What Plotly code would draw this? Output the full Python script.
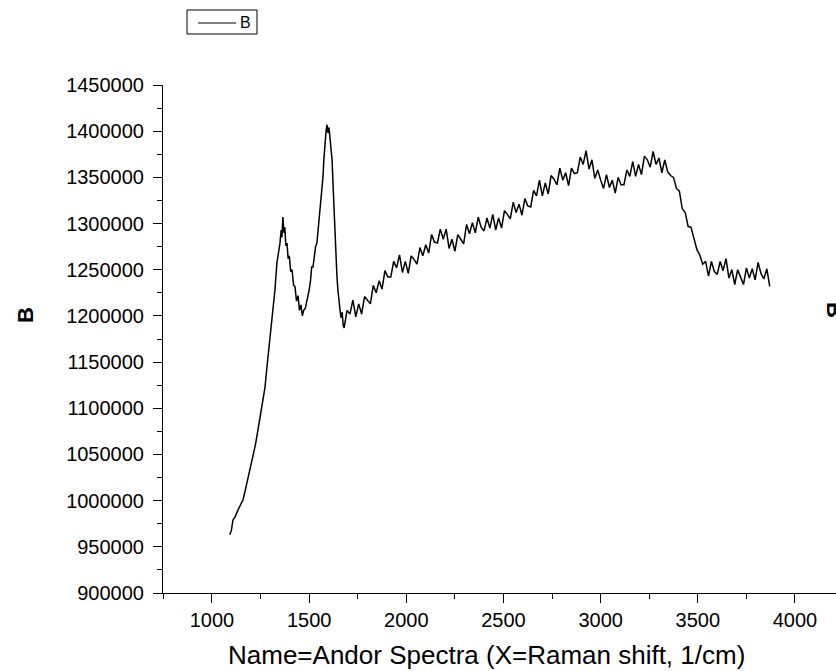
import plotly.graph_objects as go

# Raman shift (1/cm)
raman_shift = [
    1092, 1100, 1108, 1120, 1134, 1147, 1160, 1170, 1180, 1193, 1206, 1214, 1221, 1229, 1237, 1247,
    1257, 1265, 1273, 1283, 1293, 1301, 1309, 1316, 1324, 1334, 1342, 1350, 1356, 1360, 1365, 1370,
    1375, 1380, 1386, 1392, 1398, 1405, 1412, 1420, 1427, 1435, 1443, 1450, 1458, 1465, 1472, 1480,
    1487, 1494, 1500, 1507, 1513, 1520, 1527, 1533, 1540, 1548, 1556, 1563, 1571, 1576, 1581, 1587,
    1592, 1597, 1602, 1607, 1612, 1618, 1623, 1628, 1633, 1638, 1643, 1648, 1653, 1659, 1664, 1670,
    1675,
    1680, 1695, 1710, 1725, 1740, 1755, 1770, 1785, 1800, 1815, 1830, 1845, 1860, 1875, 1890, 1905,
    1920, 1935, 1950, 1965, 1980, 1995, 2010, 2025, 2040, 2055, 2070, 2085, 2100, 2115, 2130, 2145,
    2160, 2175, 2190, 2205, 2220, 2235, 2250, 2265, 2280, 2295, 2310, 2325, 2340, 2355, 2370, 2385,
    2400, 2415, 2430, 2445, 2460, 2475, 2490, 2505, 2520, 2535, 2550, 2565, 2580, 2595, 2610, 2625,
    2640, 2655, 2670, 2685, 2700, 2715, 2730, 2745, 2760, 2775, 2790, 2805, 2820, 2835, 2850, 2865,
    2880, 2895, 2910, 2925, 2940, 2955, 2970, 2985, 3000, 3015, 3030, 3045, 3060, 3075, 3090, 3105,
    3120, 3135, 3150, 3165, 3180, 3195, 3210, 3225, 3240, 3255, 3270, 3285, 3300, 3315, 3330, 3345,
    3360, 3375, 3390, 3405, 3420, 3435, 3450, 3465, 3480, 3495, 3510, 3525, 3540, 3555, 3570, 3585,
    3600, 3615, 3630, 3645, 3660, 3675, 3690, 3705, 3720, 3735, 3750, 3765, 3780, 3795, 3810, 3825,
    3840, 3855, 3870,
]

# Intensity "B", in thousands of counts
intensity_thousands = [
    963, 968, 979, 983, 990, 996, 1001, 1010, 1019, 1031, 1041, 1050, 1058, 1067, 1077, 1090,
    1101, 1112, 1123, 1145, 1166, 1180, 1192, 1212, 1228, 1257, 1268, 1279, 1293, 1285, 1307, 1290,
    1296, 1276, 1279, 1262, 1265, 1248, 1250, 1233, 1232, 1216, 1222, 1206, 1212, 1200, 1206, 1208,
    1215, 1221, 1228, 1238, 1253, 1253, 1266, 1275, 1279, 1297, 1315, 1333, 1350, 1370, 1387, 1400,
    1407, 1398, 1404, 1394, 1382, 1369, 1342, 1315, 1288, 1261, 1243, 1228, 1214, 1206, 1198, 1204,
    1190,
    1187, 1206, 1202, 1217, 1199, 1213, 1202, 1221, 1217, 1213, 1233, 1225, 1238, 1229, 1249, 1242,
    1242, 1259, 1252, 1266, 1247, 1259, 1246, 1265, 1261, 1256, 1274, 1265, 1277, 1268, 1288, 1280,
    1279, 1294, 1283, 1294, 1273, 1283, 1270, 1288, 1283, 1278, 1299, 1289, 1301, 1290, 1307, 1296,
    1292, 1306, 1295, 1310, 1293, 1306, 1295, 1314, 1310, 1305, 1323, 1312, 1321, 1309, 1327, 1319,
    1318, 1336, 1330, 1347, 1330, 1344, 1332, 1352, 1348, 1342, 1360, 1347, 1355, 1341, 1360, 1354,
    1355, 1372, 1364, 1379, 1359, 1369, 1349, 1358, 1347, 1338, 1353, 1339, 1347, 1333, 1350, 1342,
    1342, 1358, 1351, 1367, 1351, 1364, 1353, 1373, 1369, 1361, 1378, 1364, 1371, 1355, 1369, 1356,
    1352, 1350, 1338, 1335, 1316, 1312, 1297, 1296, 1284, 1272, 1266, 1256, 1259, 1243, 1259, 1248,
    1245, 1259, 1249, 1262, 1241, 1250, 1234, 1250, 1242, 1234, 1252, 1241, 1251, 1239, 1258, 1246,
    1240, 1251, 1232,
]

intensity = [v * 1000 for v in intensity_thousands]

FONT = "Liberation Sans, Arial, sans-serif"

# plot area in pixels: left 163, right 836, top 85, bottom 593
def px_x(px):
    return (px - 163) / 673

def px_y(py):
    return (593 - py) / 508

fig = go.Figure()
fig.add_trace(go.Scatter(
    x=raman_shift, y=intensity, mode="lines", name="B",
    line=dict(color="black", width=1.5),
))

fig.update_layout(
    width=836, height=671,
    margin=dict(l=163, r=0, t=85, b=78),
    paper_bgcolor="white", plot_bgcolor="white",
    font=dict(family=FONT, color="black", size=20),
    showlegend=False,
    xaxis=dict(
        range=[748, 4211], showgrid=False, zeroline=False,
        showline=True, linecolor="black", linewidth=1,
        ticks="outside", ticklen=9, tickwidth=1, tickcolor="black",
        tick0=1000, dtick=500,
        tickfont=dict(family=FONT, size=20, color="black"),
        minor=dict(ticks="outside", ticklen=5, tickwidth=1, tickcolor="black",
                   dtick=250, tick0=750, showgrid=False),
    ),
    yaxis=dict(
        range=[900000, 1450000], showgrid=False, zeroline=False,
        showline=True, linecolor="black", linewidth=1,
        ticks="outside", ticklen=9, tickwidth=1, tickcolor="black",
        tick0=900000, dtick=50000, tickformat="d",
        ticklabelstandoff=5,
        tickfont=dict(family=FONT, size=20, color="black"),
        minor=dict(ticks="outside", ticklen=5, tickwidth=1, tickcolor="black",
                   dtick=25000, showgrid=False),
    ),
    shapes=[
        dict(type="rect", xref="paper", yref="paper",
             x0=px_x(187), x1=px_x(257), y0=px_y(34), y1=px_y(10),
             line=dict(color="black", width=1), fillcolor="white"),
        dict(type="line", xref="paper", yref="paper",
             x0=px_x(198), x1=px_x(236), y0=px_y(23), y1=px_y(23),
             line=dict(color="black", width=1)),
    ],
    annotations=[
        dict(text="B", xref="paper", yref="paper",
             x=px_x(238), y=px_y(22.5), xanchor="left", yanchor="middle",
             showarrow=False, font=dict(family=FONT, size=16, color="black")),
        dict(text="Name=Andor Spectra (X=Raman shift, 1/cm)", xref="paper", yref="paper",
             x=px_x(486), y=px_y(655), xanchor="center", yanchor="middle",
             showarrow=False, font=dict(family=FONT, size=26, color="black")),
        dict(text="<b>B</b>", xref="paper", yref="paper",
             x=px_x(25), y=px_y(315), xanchor="center", yanchor="middle",
             textangle=-90, showarrow=False, font=dict(family=FONT, size=22, color="black")),
        dict(text="<b>B</b>", xref="paper", yref="paper",
             x=px_x(835), y=px_y(310), xanchor="center", yanchor="middle",
             textangle=90, showarrow=False, font=dict(family=FONT, size=22, color="black")),
    ],
)

fig.write_html("out.html")
